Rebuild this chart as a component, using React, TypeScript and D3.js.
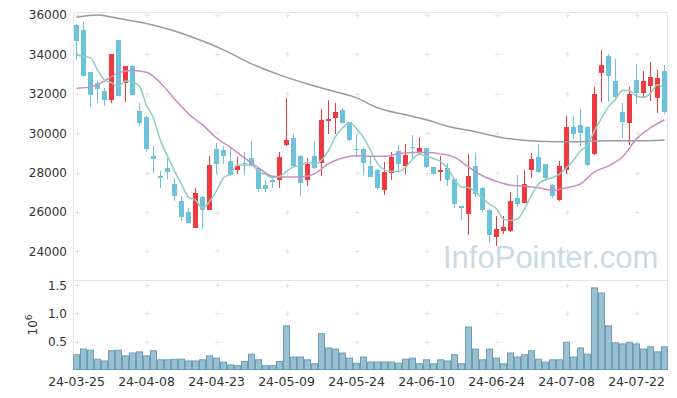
import React from "react";
import * as d3 from "d3";

// trading days 24-03-25 .. 24-07-26
const dates = [
  "24-03-25", "24-03-26", "24-03-27", "24-03-28", "24-03-29", "24-04-01", "24-04-02", "24-04-03", "24-04-04", "24-04-05",
  "24-04-08", "24-04-09", "24-04-11", "24-04-12", "24-04-15", "24-04-16", "24-04-17", "24-04-18", "24-04-19", "24-04-22",
  "24-04-23", "24-04-24", "24-04-25", "24-04-26", "24-04-29", "24-04-30", "24-05-02", "24-05-03", "24-05-07", "24-05-08",
  "24-05-09", "24-05-10", "24-05-13", "24-05-14", "24-05-16", "24-05-17", "24-05-20", "24-05-21", "24-05-22", "24-05-23",
  "24-05-24", "24-05-27", "24-05-28", "24-05-29", "24-05-30", "24-05-31", "24-06-03", "24-06-04", "24-06-05", "24-06-07",
  "24-06-10", "24-06-11", "24-06-12", "24-06-13", "24-06-14", "24-06-17", "24-06-18", "24-06-19", "24-06-20", "24-06-21",
  "24-06-24", "24-06-25", "24-06-26", "24-06-27", "24-06-28", "24-07-01", "24-07-02", "24-07-03", "24-07-04", "24-07-05",
  "24-07-08", "24-07-09", "24-07-10", "24-07-11", "24-07-12", "24-07-15", "24-07-16", "24-07-17", "24-07-18", "24-07-19",
  "24-07-22", "24-07-23", "24-07-24", "24-07-25", "24-07-26",
];

const open = [
  35490, 35240, 33080, 32540, 32150, 31690, 34730, 32570, 33430, 31150,
  30840, 28820, 27850, 28240, 27430, 26570, 25980, 25190, 26760, 26080,
  29190, 29160, 28600, 28110, 28500, 28740, 28230, 27380, 27640, 27600,
  29410, 29750, 28850, 27640, 28850, 28480, 30640, 30790, 31180, 30560,
  29210, 29190, 28340, 28140, 27130, 27970, 29110, 28310, 29300, 29020,
  29240, 28280, 28010, 28230, 27690, 26300, 25910, 28340, 27230, 26110,
  24720, 25010, 25060, 26720, 26480, 28110, 28800, 28430, 27380, 26590,
  28110, 30310, 30420, 30310, 28950, 33040, 33920, 32650, 31050, 30500,
  32710, 32060, 32410, 31810, 33160,
];
const high = [
  35550, 35650, 33130, 32650, 32280, 34020, 34730, 33410, 33470, 31520,
  30880, 29360, 28060, 28740, 27720, 26790, 26200, 27210, 26800, 28820,
  29500, 29370, 29310, 28790, 29050, 29590, 28240, 27640, 27840, 29070,
  31780, 29970, 28870, 28740, 29580, 31220, 31690, 31520, 31290, 30580,
  29920, 29260, 28800, 28200, 28560, 29070, 29410, 29460, 29920, 29800,
  29260, 28300, 28820, 28510, 27740, 26320, 28950, 29000, 27280, 26160,
  25810, 25810, 27040, 27890, 28140, 28990, 29450, 28450, 27400, 28610,
  30880, 30880, 31220, 30360, 32330, 34230, 34010, 33750, 31520, 32330,
  33520, 33180, 33630, 33190, 33470,
];
const low = [
  33720, 32900, 31320, 31520, 31390, 31520, 31870, 31570, 31930, 30370,
  29070, 27970, 27210, 27670, 26540, 25520, 25420, 25190, 25140, 26080,
  27940, 28430, 27840, 27940, 27890, 28340, 27040, 27040, 27230, 27210,
  29360, 28290, 26820, 27300, 28180, 27840, 29970, 29970, 30520, 29610,
  28790, 27890, 27780, 27130, 26870, 27640, 28010, 27940, 28740, 28900,
  28230, 27920, 27550, 27330, 26200, 25610, 24850, 26760, 25980, 24430,
  24290, 24900, 24960, 26250, 26460, 27720, 27990, 27550, 26700, 26570,
  27940, 29710, 29360, 28320, 28900, 31600, 31600, 31780, 29750, 29410,
  31490, 31830, 31620, 31030, 30990,
];
const close = [
  34700, 32920, 31960, 32250, 31660, 34020, 31890, 33410, 31960, 30540,
  29220, 28680, 27700, 28040, 26790, 25770, 25440, 26980, 26080, 28400,
  28450, 28820, 27890, 28340, 28450, 28400, 27180, 27180, 27500, 28790,
  29660, 28310, 27470, 28450, 28230, 30680, 30730, 31070, 30540, 29630,
  29180, 28510, 27800, 27210, 28010, 28790, 28450, 28900, 29270, 29240,
  28260, 27940, 28110, 27600, 26420, 26250, 27840, 26930, 26080, 24850,
  25150, 25220, 26570, 26390, 27430, 28700, 28030, 27720, 26830, 28340,
  30310, 29970, 30030, 28360, 32000, 33470, 32910, 31840, 30590, 32000,
  32020, 32650, 32840, 32790, 31050,
];

const volume = [
  270000, 370000, 350000, 190000, 160000, 340000, 350000, 250000, 300000, 320000,
  250000, 340000, 180000, 180000, 190000, 190000, 160000, 160000, 180000, 250000,
  210000, 140000, 90000, 76000, 150000, 280000, 180000, 76000, 76000, 150000,
  780000, 230000, 230000, 180000, 110000, 640000, 390000, 370000, 300000, 210000,
  120000, 230000, 140000, 140000, 140000, 140000, 120000, 190000, 210000, 110000,
  180000, 110000, 180000, 160000, 270000, 110000, 760000, 370000, 180000, 370000,
  210000, 110000, 300000, 230000, 270000, 340000, 190000, 140000, 180000, 180000,
  490000, 230000, 390000, 280000, 1450000, 1360000, 780000, 480000, 460000, 490000,
  460000, 370000, 410000, 320000, 410000,
];

// moving averages
const ma5 = [
  33970, 33900, 33820, 33210, 32700, 32560, 32360, 32650, 32590, 32370,
  31410, 30760, 29620, 28840, 28090, 27400, 26750, 26600, 26210, 26530,
  27070, 27740, 27930, 28380, 28390, 28380, 28050, 27910, 27740, 27810,
  28060, 28290, 28350, 28530, 28420, 28630, 29110, 29830, 30250, 30530,
  30230, 29790, 29130, 28470, 28140, 28060, 28050, 28270, 28680, 28930,
  28820, 28720, 28560, 28230, 27660, 27260, 27240, 27010, 26700, 26390,
  26170, 25640, 25570, 25640, 26150, 26860, 27420, 27650, 27740, 27920,
  28250, 28630, 29100, 29400, 30130, 30760, 31350, 31710, 32160, 32160,
  31870, 31820, 32020, 32460, 32270,
];
const ma20Idx = [0, 2, 4, 6, 8, 10, 12, 14, 16, 18, 20, 22, 24, 26, 28, 30, 32, 34, 36, 38, 40, 42, 44, 46, 48, 50, 52, 54, 56, 58, 60, 62, 64, 66, 68, 70, 72, 74, 76, 78, 80, 82, 84];
const ma20 = [
  32280, 32350, 32650, 33060, 33180, 33090, 32550, 31740, 30980, 30420,
  29760, 29280, 28750, 28240, 27810, 27770, 27770, 27940, 28450, 28740,
  28850, 28830, 28830, 28950, 29020, 29020, 28950, 28780, 28290, 27840,
  27560, 27360, 27310, 27230, 27100, 27230, 27430, 28040, 28340, 28800,
  29710, 30270, 30680,
];
const ma60Idx = [0, 3, 6, 10, 14, 18, 21, 25, 29, 33, 37, 40, 43, 47, 50, 53, 57, 61, 66, 71, 76, 80, 84];
const ma60 = [
  35880, 36000, 35820, 35570, 35190, 34680, 34230, 33520, 32960, 32500,
  32100, 31790, 31290, 30930, 30680, 30350, 30070, 29760, 29590, 29560,
  29610, 29610, 29660,
];

const priceTicks = [24000, 26000, 28000, 30000, 32000, 34000, 36000];
const volumeTicks = [500000, 1000000, 1500000];
const tickEvery = 10;

const W = 677;
const H = 398;
const left = 73;
const right = 668;
const top = 12;
const priceBottom = 278;
const volTop = 280;
const volBottom = 370;

const UP = "#ee3a3f";
const DOWN = "#6cc2da";
const FONT = "DejaVu Sans, sans-serif";

export default function App() {
  const x = d3.scaleBand<string>().domain(dates).range([left, right]).padding(0);
  const step = x.step();
  const cx = (i: number) => (x(dates[i]) as number) + step / 2;

  const y = d3.scaleLinear().domain([22650, 36150]).range([priceBottom, top]);
  const yv = d3.scaleLinear().domain([0, 1590000]).range([volBottom, volTop]);

  const line = d3
    .line<[number, number]>()
    .x((d) => d[0])
    .y((d) => d[1])
    .curve(d3.curveMonotoneX);

  const ma5Path = line(ma5.map((v, i) => [cx(i), y(v)]));
  const ma20Path = line(ma20.map((v, k) => [cx(ma20Idx[k]), y(v)]));
  const ma60Path = line(ma60.map((v, k) => [cx(ma60Idx[k]), y(v)]));

  const xTickIdx = dates.map((_, i) => i).filter((i) => i % tickEvery === 0);

  const plus = (px: number, py: number, key: string) => (
    <g key={key} stroke="#e4e4e4" strokeWidth={1}>
      <line x1={px - 2.5} x2={px + 2.5} y1={py} y2={py} />
      <line x1={px} x2={px} y1={py - 2.5} y2={py + 2.5} />
    </g>
  );

  return (
    <svg width={W} height={H} style={{ position: "absolute", left: 0, top: 0, background: "#fff" }}>
      {/* frame */}
      <g stroke="#e6e6e6" strokeWidth={1} fill="none">
        <line x1={left + 0.5} x2={left + 0.5} y1={top} y2={volBottom} />
        <line x1={left} x2={right} y1={top + 0.5} y2={top + 0.5} />
        <line x1={right - 0.5} x2={right - 0.5} y1={top} y2={volBottom} />
        <line x1={left} x2={right} y1={volTop + 0.5} y2={volTop + 0.5} />
        <line x1={left} x2={right} y1={volBottom - 0.5} y2={volBottom - 0.5} />
      </g>

      {/* grid markers */}
      {xTickIdx.map((i) =>
        priceTicks.map((t) => plus(Math.round(cx(i)) + 0.5, Math.round(y(t)) + 0.5, `p${i}-${t}`))
      )}
      {xTickIdx.map((i) =>
        volumeTicks.map((t) => plus(Math.round(cx(i)) + 0.5, Math.round(yv(t)) + 0.5, `v${i}-${t}`))
      )}

      {/* watermark */}
      <text x={443} y={268} fontFamily="Liberation Sans, Arial, sans-serif" fontSize={31} fill="#c9dae4">
        InfoPointer.com
      </text>

      {/* candles */}
      <g shapeRendering="crispEdges">
        {dates.map((d, i) => {
          const up = close[i] >= open[i];
          const col = up ? UP : DOWN;
          const x0 = x(d) as number;
          const bTop = y(Math.max(open[i], close[i]));
          const bBot = y(Math.min(open[i], close[i]));
          return (
            <g key={d}>
              <line x1={x0 + 3.5} x2={x0 + 3.5} y1={y(high[i])} y2={y(low[i])} stroke={col} strokeWidth={1} />
              <rect x={x0 + 1} y={bTop} width={5} height={Math.max(1.5, bBot - bTop)} fill={col} />
            </g>
          );
        })}
      </g>

      {/* moving averages */}
      <path d={ma60Path || ""} fill="none" stroke="#9a9a9a" strokeWidth={1.5} />
      <path d={ma20Path || ""} fill="none" stroke="#cc8cc8" strokeWidth={1.5} />
      <path d={ma5Path || ""} fill="none" stroke="#8ecdc1" strokeWidth={1.5} />

      {/* volume */}
      <g>
        {dates.map((d, i) => (
          <rect
            key={d}
            x={(x(d) as number) + 0.5}
            y={yv(volume[i])}
            width={step - 1}
            height={volBottom - 0.5 - yv(volume[i])}
            fill="#98c0d1"
            stroke="#6c9fb7"
            strokeWidth={1}
          />
        ))}
      </g>

      {/* price axis labels */}
      <g fontFamily={FONT} fontSize={12} fill="#333" textAnchor="end">
        {priceTicks.map((t) => (
          <text key={t} x={67} y={y(t) + 4.5}>
            {t}
          </text>
        ))}
        {volumeTicks.map((t) => (
          <text key={t} x={67} y={yv(t) + 4.5}>
            {d3.format(".1f")(t / 1e6)}
          </text>
        ))}
      </g>
      <text transform={`translate(37,${(volTop + volBottom) / 2}) rotate(-90)`} fontFamily={FONT} fontSize={12} fill="#333" textAnchor="middle">
        10<tspan dy={-5} fontSize={9}>6</tspan>
      </text>

      {/* date labels */}
      <g fontFamily={FONT} fontSize={12.5} fill="#333" textAnchor="middle">
        {xTickIdx.map((i) => (
          <text key={i} x={cx(i)} y={386}>
            {dates[i]}
          </text>
        ))}
      </g>
    </svg>
  );
}
